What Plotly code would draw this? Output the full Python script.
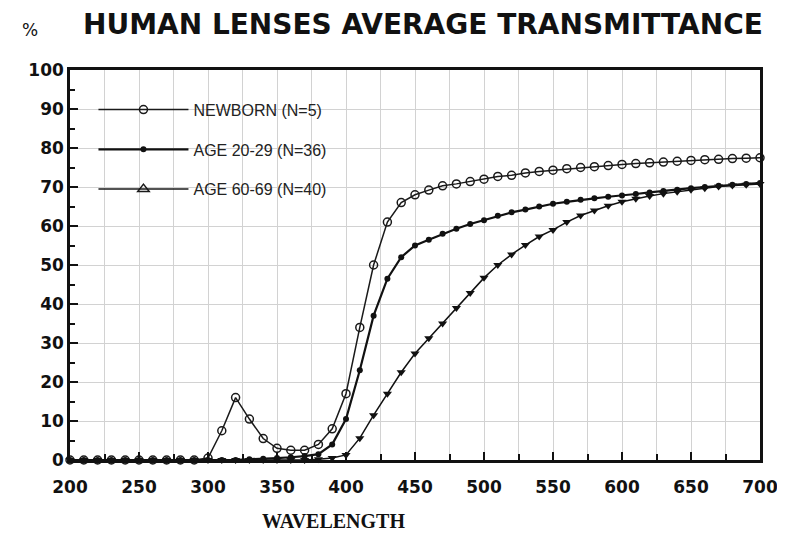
import plotly.graph_objects as go

# Longueurs d'onde (nm), pas de 10 nm
wavelength = list(range(200, 701, 10))

newborn = [
    0, 0, 0, 0, 0, 0, 0, 0, 0, 0,
    0.5, 7.5, 16, 10.5, 5.5, 3, 2.5, 2.5, 4, 8,
    17, 34, 50, 61, 66, 68, 69.2, 70.3, 70.8, 71.4,
    72, 72.7, 73, 73.6, 74, 74.3, 74.7, 75, 75.2, 75.5,
    75.8, 76, 76.2, 76.4, 76.6, 76.8, 77, 77.1, 77.3, 77.4,
    77.5,
]
age_20_29 = [
    0, 0, 0, 0, 0, 0, 0, 0, 0, 0,
    0, 0, 0, 0.2, 0.3, 0.5, 0.7, 1, 1.5, 4,
    10.5, 23, 37, 46.5, 52, 55, 56.5, 58, 59.3, 60.5,
    61.5, 62.6, 63.5, 64.2, 65, 65.7, 66.2, 66.7, 67.1, 67.5,
    67.8, 68.2, 68.6, 69, 69.3, 69.7, 70, 70.3, 70.6, 70.8,
    71,
]
age_60_69 = [
    0, 0, 0, 0, 0, 0, 0, 0, 0, 0,
    0, 0, 0, 0, 0, 0, 0, 0, 0.2, 0.5,
    1.3, 5.6, 11.5, 17, 22.5, 27.3, 31.2, 35, 39, 42.8,
    46.7, 50, 52.7, 55.1, 57.3, 59, 61, 62.7, 64, 65.2,
    66.2, 67, 67.7, 68.3, 68.8, 69.3, 69.7, 70.1, 70.4, 70.6,
    70.8,
]

x_ticks = list(range(200, 701, 50))
x_labels = ["200", "250", "300", "350", "400", "450", "500", "550", "600", "650", "700"]
y_ticks = list(range(0, 101, 10))

fig = go.Figure()

fig.add_trace(go.Scatter(
    x=wavelength, y=newborn, mode="lines+markers", name="NEWBORN (N=5)",
    legendgroup="a",
    line=dict(color="#1a1a1a", width=1.5),
    marker=dict(symbol="circle-open", size=8, color="#1a1a1a", line=dict(width=1.5)),
    cliponaxis=False,
))
fig.add_trace(go.Scatter(
    x=wavelength, y=age_20_29, mode="lines+markers", name="AGE 20-29 (N=36)",
    legendgroup="b",
    line=dict(color="#111", width=2.2),
    marker=dict(symbol="circle", size=6, color="#111"),
    cliponaxis=False,
))
fig.add_trace(go.Scatter(
    x=wavelength, y=age_60_69, mode="lines+markers", name="AGE 60-69 (N=40)",
    showlegend=False,
    line=dict(color="#111", width=1.5),
    marker=dict(symbol="triangle-down", size=8, color="#111"),
    cliponaxis=False,
))
# entrée de légende seule (symbole triangle ouvert comme sur l'original)
fig.add_trace(go.Scatter(
    x=[None], y=[None], mode="lines+markers", name="AGE 60-69 (N=40)",
    legendgroup="c",
    line=dict(color="#1a1a1a", width=1.5),
    marker=dict(symbol="triangle-up-open", size=10, color="#1a1a1a", line=dict(width=1.5)),
))

axis_font = dict(family="DejaVu Sans", size=17, color="#111", weight="bold")

fig.update_xaxes(
    range=[200, 700], tickvals=x_ticks, ticktext=x_labels,
    ticks="inside", ticklen=8, tickwidth=1.5, tickcolor="#111",
    showline=True, linecolor="#111", linewidth=2.5, mirror=True,
    showgrid=True, gridcolor="#d2d2d2", gridwidth=1,
    minor=dict(dtick=25, ticks="inside", ticklen=6, tickcolor="#111",
               showgrid=True, gridcolor="#d2d2d2", gridwidth=1),
    tickfont=axis_font, zeroline=False,
    automargin=False, ticklabeloverflow="allow", ticklabelstandoff=10,
)
fig.update_yaxes(
    range=[0, 100], tickvals=y_ticks,
    ticks="inside", ticklen=8, tickwidth=1.5, tickcolor="#111",
    showline=True, linecolor="#111", linewidth=2.5, mirror=True,
    showgrid=True, gridcolor="#d2d2d2", gridwidth=1,
    minor=dict(dtick=5, ticks="inside", ticklen=5, tickcolor="#111", showgrid=False),
    tickfont=axis_font, zeroline=False,
    automargin=False, ticklabeloverflow="allow",
)

fig.add_annotation(
    text="<b>HUMAN LENSES AVERAGE TRANSMITTANCE</b>",
    xref="paper", yref="paper", x=0.512, y=1.0, yshift=46,
    xanchor="center", yanchor="middle", showarrow=False,
    font=dict(family="DejaVu Sans", size=28, color="#111"),
)
fig.add_annotation(
    text="%", xref="paper", yref="paper", x=-0.058, y=1.0, yshift=40,
    xanchor="center", yanchor="middle", showarrow=False,
    font=dict(family="DejaVu Sans", size=17, color="#111"),
)
fig.add_annotation(
    text="<b>WAVELENGTH</b>", xref="paper", yref="paper", x=0.382, y=0, yshift=-61,
    xanchor="center", yanchor="middle", showarrow=False,
    font=dict(family="Liberation Serif", size=20, color="#111"),
)

# la page ajoute 8 px de marge autour de la figure
fig.update_layout(
    width=777, height=524,
    margin=dict(l=62, r=25, t=62, b=72),
    paper_bgcolor="white", plot_bgcolor="white",
    showlegend=True,
    legend=dict(
        x=0.034, y=0.942, xanchor="left", yanchor="top",
        bgcolor="rgba(255,255,255,0)", borderwidth=0,
        font=dict(family="Liberation Sans", size=16, color="#222"),
        tracegroupgap=16, itemwidth=90,
    ),
)

fig.write_html("out.html")
